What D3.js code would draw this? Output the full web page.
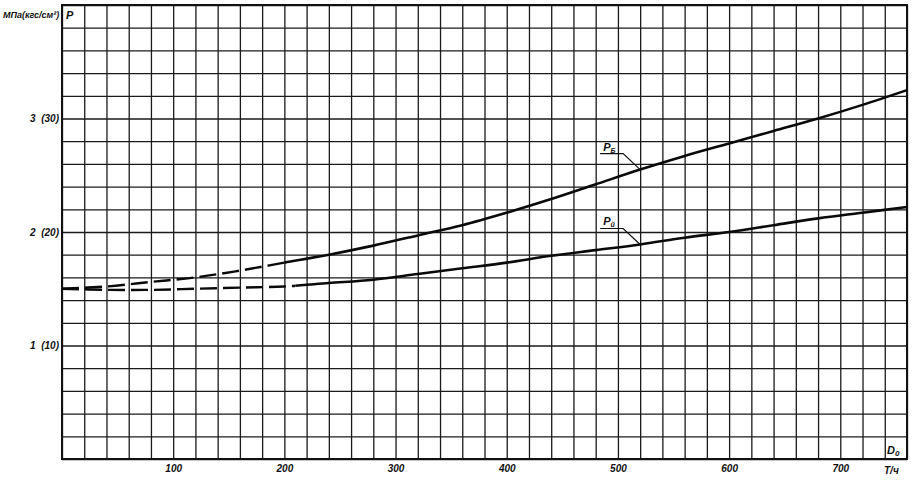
<!DOCTYPE html>
<html><head><meta charset="utf-8">
<script src="https://cdn.jsdelivr.net/npm/d3@7"></script>
<style>
html,body{margin:0;padding:0;background:#fff;}
text{font-family:"Liberation Sans",Arial,sans-serif;font-style:italic;font-weight:bold;fill:#111;}
</style></head>
<body>
<script>
// ---- data ----
const flowValues = [0,40,80,120,160,200,240,280,320,360,400,440,480,520,560,600,640,680,720,760];
const pUpper = [1.50,1.52,1.56,1.60,1.66,1.73,1.80,1.88,1.97,2.06,2.17,2.29,2.42,2.55,2.67,2.78,2.89,3.00,3.12,3.25];
const pLower = [1.50,1.49,1.49,1.50,1.51,1.52,1.55,1.58,1.63,1.68,1.73,1.79,1.84,1.89,1.95,2.00,2.06,2.12,2.17,2.22];
const dashedUntilUpper = 200;
const dashedUntilLower = 210;
const xTickValues = [100,200,300,400,500,600,700];
const xTickLabels = ["100","200","300","400","500","600","700"];
const yTickValues = [1,2,3];
const yTickLabels = ["1  (10)","2  (20)","3  (30)"];
const xGridStep = 20, yGridStep = 0.2;
const xMax = 760, yMax = 4;

// ---- layout ----
const W = 917, H = 483;
const m = {left:62, right:10, top:5, bottom:24};
const iw = W - m.left - m.right, ih = H - m.top - m.bottom;

const svg = d3.select("body").append("svg").attr("width",W).attr("height",H);
const g = svg.append("g").attr("transform",`translate(${m.left},${m.top})`);

const x = d3.scaleLinear().domain([0,xMax]).range([0,iw]);
const y = d3.scaleLinear().domain([0,yMax]).range([ih,0]);

// grid via axes
const xGrid = d3.axisBottom(x).tickValues(d3.range(0,xMax+1e-6,xGridStep)).tickSize(-ih).tickFormat("");
const yGrid = d3.axisLeft(y).tickValues(d3.range(0,yMax+1e-6,yGridStep)).tickSize(-iw).tickFormat("");
g.append("g").attr("transform",`translate(0,${ih})`).call(xGrid)
  .call(s=>s.select(".domain").remove())
  .selectAll("line").attr("stroke","#1a1a1a").attr("stroke-width",1.3);
g.append("g").call(yGrid)
  .call(s=>s.select(".domain").remove())
  .selectAll("line").attr("stroke","#1a1a1a").attr("stroke-width",1.3);

// border
g.append("rect").attr("x",0).attr("y",0).attr("width",iw).attr("height",ih)
  .attr("fill","none").attr("stroke","#111").attr("stroke-width",2);

// tick labels
const xAxis = d3.axisBottom(x).tickValues(xTickValues).tickSize(0).tickPadding(6)
  .tickFormat((d,i)=>xTickLabels[i]);
g.append("g").attr("transform",`translate(0,${ih})`).call(xAxis)
  .call(s=>s.select(".domain").remove())
  .selectAll("text").attr("font-size",10).attr("font-family",null).attr("fill","#111");
const yAxis = d3.axisLeft(y).tickValues(yTickValues).tickSize(0).tickPadding(3)
  .tickFormat((d,i)=>yTickLabels[i]);
g.append("g").call(yAxis)
  .call(s=>s.select(".domain").remove())
  .selectAll("text").attr("font-size",10).attr("font-family",null).attr("fill","#111")
  .style("white-space","pre").attr("xml:space","preserve");

// curves
const rows = (vals)=>flowValues.map((v,i)=>({v,p:vals[i]}));
const line = d3.line().x(d=>x(d.v)).y(d=>y(d.p)).curve(d3.curveCatmullRom.alpha(0.5));
function drawCurve(vals, cut){
  const data = rows(vals);
  const full = line(data);
  // dashed part and solid part using clip paths by x
  const id = "c"+Math.random().toString(36).slice(2,7);
  const defs = svg.append("defs");
  defs.append("clipPath").attr("id",id+"a").append("rect")
    .attr("x",-5).attr("y",-5).attr("width",x(cut)+5).attr("height",ih+10);
  defs.append("clipPath").attr("id",id+"b").append("rect")
    .attr("x",x(cut)).attr("y",-5).attr("width",iw-x(cut)+5).attr("height",ih+10);
  g.append("path").attr("d",full).attr("fill","none").attr("stroke","#0a0a0a")
    .attr("stroke-width",2.4).attr("stroke-dasharray","17,6").attr("clip-path",`url(#${id}a)`);
  g.append("path").attr("d",full).attr("fill","none").attr("stroke","#0a0a0a")
    .attr("stroke-width",2.6).attr("clip-path",`url(#${id}b)`);
}
drawCurve(pUpper, dashedUntilUpper);
drawCurve(pLower, dashedUntilLower);

// curve labels with leader lines
function curveLabel(vals, vAt, sub, tx, ty){
  const i = d3.bisector(d=>d).left(flowValues, vAt);
  const t = (vAt-flowValues[i-1])/(flowValues[i]-flowValues[i-1]);
  const p = vals[i-1]+(vals[i]-vals[i-1])*t;
  const px = x(vAt), py = y(p);
  const lx = px - 40 - 0, ly = py - 16;
  g.append("path").attr("d",`M${px-40},${py-16}H${px-17}L${px},${py}`)
    .attr("fill","none").attr("stroke","#111").attr("stroke-width",1.2);
  const t1 = g.append("text").attr("x",px-37).attr("y",py-19).attr("font-size",11);
  t1.append("tspan").text("P");
  t1.append("tspan").attr("font-size",7).attr("dy",2).text(sub);
}
curveLabel(pUpper, 520, "Б");
curveLabel(pLower, 520, "й");

// axis titles
svg.append("text").attr("x",3).attr("y",18).attr("font-size",9).text("МПа(кгс/см²)");
svg.append("text").attr("x",66).attr("y",19).attr("font-size",11).text("P");
const d0 = svg.append("text").attr("x",887).attr("y",454).attr("font-size",11);
d0.append("tspan").text("D");
d0.append("tspan").attr("font-size",8).attr("dy",2).text("0");
svg.append("text").attr("x",884).attr("y",474).attr("font-size",10).text("Т/ч");
</script>
</body></html>
